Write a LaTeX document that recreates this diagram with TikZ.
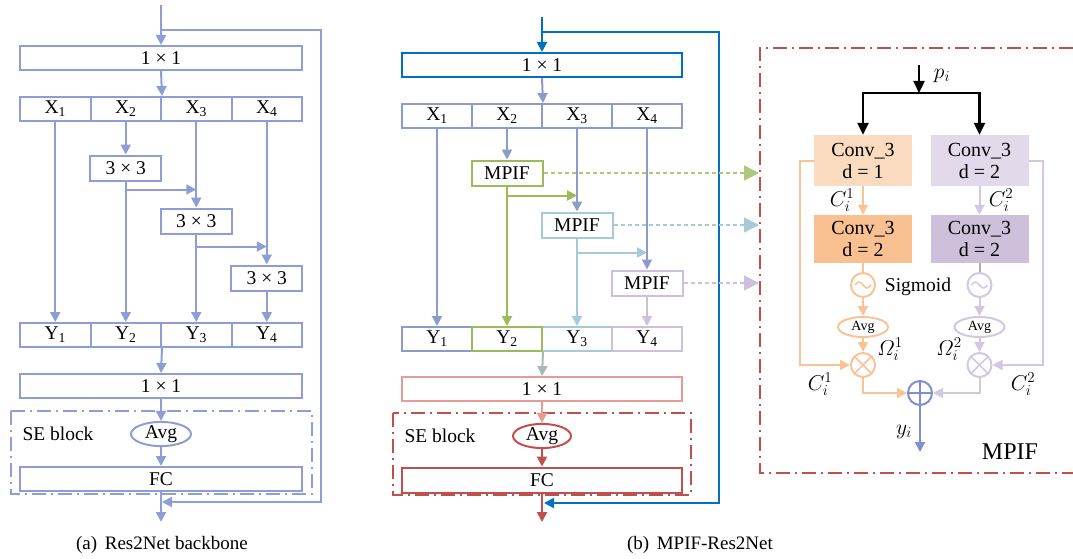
\RequirePackage{fix-cm}
\documentclass[tikz,border=0pt]{standalone}
\usepackage{fontspec}
\setmainfont{Liberation Serif}
\usetikzlibrary{arrows.meta,shapes.geometric}
\definecolor{lb}{RGB}{143,157,214}
\definecolor{xr}{RGB}{140,155,200}
\definecolor{mblue}{RGB}{0,112,192}
\definecolor{mgreen}{RGB}{155,187,89}
\definecolor{mlblue}{RGB}{166,202,216}
\definecolor{mlav}{RGB}{204,192,222}
\definecolor{mteal}{RGB}{165,186,183}
\definecolor{mpink}{RGB}{230,155,150}
\definecolor{mred}{RGB}{192,80,77}
\definecolor{cA}{RGB}{251,219,192}
\definecolor{cB}{RGB}{249,193,145}
\definecolor{cC}{RGB}{226,218,235}
\definecolor{cD}{RGB}{206,192,219}
\definecolor{lor}{RGB}{248,196,150}
\definecolor{lpu}{RGB}{210,200,226}
\definecolor{plb}{RGB}{127,143,208}
\tikzset{
 bx/.style={draw, rectangle, line width=2pt, inner sep=0pt, fill=white, text=black},
 cell/.style={minimum width=70.5pt, minimum height=24pt},
 wide/.style={minimum width=282pt, minimum height=24pt},
 sq/.style={minimum width=71pt, minimum height=25pt},
 arr/.style={-{Triangle[length=10pt,width=10pt]}, line width=2pt},
 barr/.style={-{Triangle[length=12pt,width=11pt]}, line width=2.3pt, black},
 dd/.style={line width=1.8pt, dash pattern=on 14pt off 5pt on 2pt off 5pt},
 dotarr/.style={line width=1.5pt, dash pattern=on 4pt off 3pt, -{Triangle[length=15pt,width=15pt]}},
 conv/.style={rectangle, inner sep=0pt, minimum width=98pt, align=center, font=\fontsize{20}{22}\selectfont},
 ell/.style={draw, ellipse, line width=2pt, inner sep=0pt, text=black},
 circ/.style={draw, circle, line width=2pt, minimum size=24pt, inner sep=0pt},
 mlab/.style={font=\fontsize{21.5}{24}\selectfont},
 captxt/.style={font=\fontsize{19}{22}\selectfont},
}
\begin{document}
\begin{tikzpicture}[x=1pt,y=-1pt, every node/.style={font=\fontsize{19.5}{22}\selectfont, inner sep=0pt}]
\useasboundingbox (0,0) rectangle (1073,559);
% ===== (a) Res2Net backbone =====
\begin{scope}[color=lb]
\coordinate (ain) at (161,5);
\coordinate (abr) at (161,30);
\coordinate (aret) at (162,502);
\coordinate (aout) at (161,522);
\node[bx,wide] (a11) at (161,58) {1 × 1};
\node[bx,cell] (ax1) at (55.25,109) {X\textsubscript{1}};
\node[bx,cell] (ax2) at (125.75,109) {X\textsubscript{2}};
\node[bx,cell] (ax3) at (196.25,109) {X\textsubscript{3}};
\node[bx,cell] (ax4) at (266.75,109) {X\textsubscript{4}};
\node[bx,sq] (ca) at (125.75,168) {3 × 3};
\node[bx,sq] (cb) at (196.25,221) {3 × 3};
\node[bx,sq] (cc) at (266.75,278) {3 × 3};
\node[bx,cell] (ay1) at (55.25,335) {Y\textsubscript{1}};
\node[bx,cell] (ay2) at (125.75,335) {Y\textsubscript{2}};
\node[bx,cell] (ay3) at (196.25,335) {Y\textsubscript{3}};
\node[bx,cell] (ay4) at (266.75,335) {Y\textsubscript{4}};
\node[bx,wide] (a12) at (161,386) {1 × 1};
\draw[dd] (11,411) rectangle (312,494);
\node[text=black] (ase) at (58,434) {SE block};
\node[ell,minimum width=60pt,minimum height=24pt,fill=white] (aavg) at (161,434) {Avg};
\node[bx,wide] (afc) at (161,479) {FC};
\draw[arr] (ain) -- (a11.north);
\draw[line width=2pt] (abr) -- (321,30) -- (321,502) -- (300,502);
\draw[arr] (300,502) -- (aret);
\draw[arr] (a11.south) -- (ax2.north east);
\draw[arr] (ax1.south) -- (ay1.north);
\draw[arr] (ax2.south) -- (ca.north);
\draw[arr] (ca.south) -- (ay2.north);
\path (ca.south) ++(0,8) coordinate (ab1);
\draw[arr] (ab1) -- (ab1 -| ax3.south);
\draw[arr] (ax3.south) -- (cb.north);
\draw[arr] (cb.south) -- (ay3.north);
\path (cb.south) ++(0,12) coordinate (ab2);
\draw[arr] (ab2) -- (ab2 -| ax4.south);
\draw[arr] (ax4.south) -- (cc.north);
\draw[arr] (cc.south) -- (ay4.north);
\draw[arr] (ay2.south east) -- (a12.north);
\draw[arr] (a12.south) -- (aavg.north);
\draw[arr] (aavg.south) -- (afc.north);
\draw[arr] (afc.south) -- (aout);
\end{scope}
\node[captxt] (capa) at (162,545) {(a)\hspace{0.4em}Res2Net backbone};
% ===== (b) MPIF-Res2Net =====
\coordinate (bin) at (542,17);
\coordinate (bbr) at (542,32);
\coordinate (bret) at (544,503);
\coordinate (bout) at (542,522);
\coordinate (panelL) at (759,0);
\node[bx,draw=mblue,minimum width=280pt,minimum height=24pt] (b11) at (542,65) {1 × 1};
\node[bx,draw=xr,minimum width=70pt,minimum height=24pt] (bx1) at (437,116) {X\textsubscript{1}};
\node[bx,draw=xr,minimum width=70pt,minimum height=24pt] (bx2) at (507,116) {X\textsubscript{2}};
\node[bx,draw=xr,minimum width=70pt,minimum height=24pt] (bx3) at (577,116) {X\textsubscript{3}};
\node[bx,draw=xr,minimum width=70pt,minimum height=24pt] (bx4) at (647,116) {X\textsubscript{4}};
\node[bx,draw=mgreen,sq] (mp1) at (507,173) {MPIF};
\node[bx,draw=mlblue,sq] (mp2) at (577,225) {MPIF};
\node[bx,draw=mlav,sq] (mp3) at (647,283) {MPIF};
\node[bx,draw=xr,minimum width=70pt,minimum height=24pt] (by1) at (437,339) {Y\textsubscript{1}};
\node[bx,draw=mlblue,minimum width=70pt,minimum height=24pt] (by3) at (577,339) {Y\textsubscript{3}};
\node[bx,draw=mlav,minimum width=70pt,minimum height=24pt] (by4) at (647,339) {Y\textsubscript{4}};
\node[bx,draw=mgreen,minimum width=70pt,minimum height=24pt] (by2) at (507,339) {Y\textsubscript{2}};
\node[bx,draw=mpink,minimum width=280pt,minimum height=24pt] (b12) at (542,389) {1 × 1};
\draw[dd,mred] (393,413) rectangle (691,495);
\node (bse) at (440,436) {SE block};
\node[ell,draw=mred,minimum width=58pt,minimum height=24pt,fill=white] (bavg) at (542,436) {Avg};
\node[bx,draw=mred,minimum width=280pt,minimum height=25pt] (bfc) at (542,480) {FC};
\draw[arr,mblue] (bin) -- (b11.north);
\draw[line width=2pt,mblue] (bbr) -- (719,32) -- (719,503) -- (700,503);
\draw[arr,mblue] (700,503) -- (bret);
\draw[arr,xr] (b11.south) -- (bx2.north east);
\draw[arr,xr] (bx1.south) -- (by1.north);
\draw[arr,xr] (bx2.south) -- (mp1.north);
\draw[arr,mgreen] (mp1.south) -- (by2.north);
\path (mp1.south) ++(0,9) coordinate (bb1);
\draw[arr,mgreen] (bb1) -- (bb1 -| bx3.south);
\draw[arr,xr] (bx3.south) -- (mp2.north);
\draw[arr,mlblue] (mp2.south) -- (by3.north);
\path (mp2.south) ++(0,14) coordinate (bb2);
\draw[arr,mlblue] (bb2) -- (bb2 -| bx4.south);
\draw[arr,xr] (bx4.south) -- (mp3.north);
\draw[arr,mlav] (mp3.south) -- (by4.north);
\draw[arr,mteal] (by2.south east) -- (b12.north);
\draw[arr,mpink] (b12.south) -- (bavg.north);
\draw[arr,mred] (bavg.south) -- (bfc.north);
\draw[arr,mred] (bfc.south) -- (bout);
\draw[dotarr,mgreen!80] (mp1.east) -- (mp1.east -| panelL);
\draw[dotarr,mlblue] (mp2.east) -- (mp2.east -| panelL);
\draw[dotarr,mlav] (mp3.east) -- (mp3.east -| panelL);
\node[captxt] (capb) at (700,545) {(b)\hspace{0.4em}MPIF-Res2Net};
% ===== MPIF detail =====
\draw[dd,mred] (1073,48) -- (760,48) -- (760,473) -- (1073,473);
\coordinate (pin) at (919,65);
\coordinate (psp) at (919,93);
\node[mlab] (plab) at (942,76) {$p_i$};
\node[conv,fill=cA,minimum height=51pt] (k1) at (863,160.5) {Conv\_3\\d = 1};
\node[conv,fill=cC,minimum height=51pt] (k2) at (979.5,160.5) {Conv\_3\\d = 2};
\node[conv,fill=cB,minimum height=48pt] (k3) at (863,239) {Conv\_3\\d = 2};
\node[conv,fill=cD,minimum height=48pt] (k4) at (979.5,239) {Conv\_3\\d = 2};
\draw[barr] (pin) -- (psp);
\draw[barr] (psp) -| (k1.north);
\draw[barr] (psp) -| (k2.north);
\node[circ,draw=lor] (s1) at (863,285) {};
\node[circ,draw=lpu] (s2) at (979.5,285) {};
\draw[lor,line width=1.5pt] (855,285) sin (859,282) cos (863,285) sin (867,288) cos (871,285);
\draw[lpu,line width=1.5pt] (971.5,285) sin (975.5,282) cos (979.5,285) sin (983.5,288) cos (987.5,285);
\node (sig) at (918,287) {Sigmoid};
\node[ell,draw=lor,minimum width=50pt,minimum height=20pt,font=\fontsize{14}{16}\selectfont] (av1) at (863,327) {Avg};
\node[ell,draw=lpu,minimum width=50pt,minimum height=20pt,font=\fontsize{14}{16}\selectfont] (av2) at (979.5,327) {Avg};
\node[circ,draw=lor] (m1) at (863,365) {};
\node[circ,draw=lpu] (m2) at (979.5,365) {};
\draw[lor,line width=1.5pt] (m1.north west) -- (m1.south east) (m1.north east) -- (m1.south west);
\draw[lpu,line width=1.5pt] (m2.north west) -- (m2.south east) (m2.north east) -- (m2.south west);
\node[circ,draw=plb] (pl) at (920,393) {};
\draw[plb,line width=2pt] (pl.north) -- (pl.south) (pl.west) -- (pl.east);
\coordinate (yout) at (920,452);
\draw[arr,lor] (k1.south) -- (k3.north);
\draw[arr,lpu] (k2.south) -- (k4.north);
\draw[line width=2pt,lor] (k3.south) -- (s1.north);
\draw[line width=2pt,lpu!85!black] (k4.south) -- (s2.north);
\draw[arr,lor] (s1.south) -- (av1.north);
\draw[arr,lpu] (s2.south) -- (av2.north);
\draw[arr,lor] (av1.south) -- (m1.north);
\draw[arr,lpu] (av2.south) -- (m2.north);
\draw[arr,lor] (k1.west) -- ++(-14,0) |- (m1.west);
\draw[arr,lpu] (k2.east) -- ++(14,0) |- (m2.east);
\draw[arr,lor] (m1.south) |- (pl.west);
\draw[arr,lpu] (m2.south) |- (pl.east);
\draw[arr,plb] (pl.south) -- (yout);
\node[mlab] (c1u) at (842,200) {$C_i^1$};
\node[mlab] (c2u) at (1001,200) {$C_i^2$};
\node[mlab] (o1) at (890,349) {$\mathnormal{\Omega}_i^1$};
\node[mlab] (o2) at (949,349) {$\mathnormal{\Omega}_i^2$};
\node[mlab] (c1d) at (820,384) {$C_i^1$};
\node[mlab] (c2d) at (1023,384) {$C_i^2$};
\node[mlab] (ylab) at (904,432) {$y_i$};
\node[font=\fontsize{24}{26}\selectfont] (mpt) at (1010,452) {MPIF};
\end{tikzpicture}
\end{document}
